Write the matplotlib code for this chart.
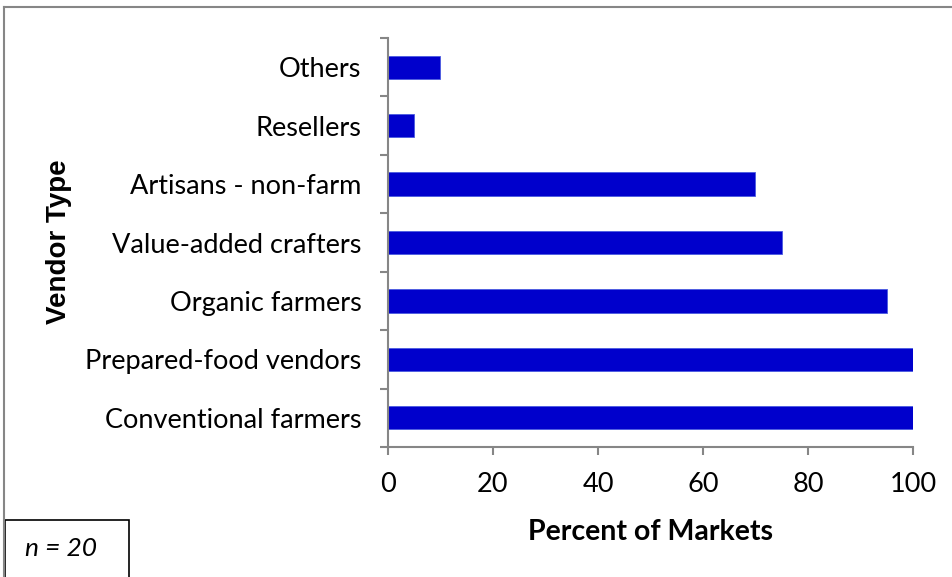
import matplotlib.pyplot as plt
from matplotlib.patches import Rectangle

# vendor types, bottom to top
vendors = ['Conventional farmers', 'Prepared-food vendors', 'Organic farmers',
           'Value-added crafters', 'Artisans - non-farm', 'Resellers', 'Others']
percent = [100, 100, 95, 75, 70, 5, 10]
xticks = [0, 20, 40, 60, 80, 100]

axis_grey = '#868686'
font = 'Lato'

fig = plt.figure(figsize=(9.53, 5.77), dpi=100)
ax = fig.add_axes([0.4071, 0.2253, 0.5509, 0.7088])

ax.barh(range(len(vendors)), percent, height=0.4, color='#0000CC',
        edgecolor='#4a5ae0', linewidth=0.6)

ax.set_xlim(0, 100)
ax.set_ylim(-0.5, len(vendors) - 0.5)
ax.set_xticks(xticks)
ax.set_xticklabels([str(t) for t in xticks], fontsize=19.5, family=font)
ax.set_yticks(range(len(vendors)))
ax.set_yticklabels(vendors, fontsize=19.5, family=font)
# tick marks sit between categories, labels stay centred
ax.set_yticks([i - 0.5 for i in range(len(vendors) + 1)], minor=True)
ax.tick_params(axis='y', which='major', length=0, pad=19)
ax.tick_params(axis='y', which='minor', length=6, color=axis_grey, width=1.5)
ax.tick_params(axis='x', length=6, color=axis_grey, width=1.5, pad=12)

for side in ['top', 'right']:
    ax.spines[side].set_visible(False)
for side in ['left', 'bottom']:
    ax.spines[side].set_color(axis_grey)
    ax.spines[side].set_linewidth(1.5)

ax.set_xlabel('Percent of Markets', fontsize=20.5, family=font,
              fontweight='bold', labelpad=16)
fig.text(0.062, 0.581, 'Vendor Type', rotation=90, fontsize=20,
         family='Liberation Sans', fontweight='bold', ha='center', va='center')

# chart area frame and the sample size box
fig.add_artist(plt.Line2D([0.0042, 1.0], [0.988, 0.988], color=axis_grey,
                          linewidth=1.5, transform=fig.transFigure))
fig.add_artist(plt.Line2D([0.0042, 0.0042], [0.0, 0.988], color=axis_grey,
                          linewidth=1.5, transform=fig.transFigure))
fig.add_artist(Rectangle((0.0052, -0.01), 0.13, 0.108, fill=False,
                         edgecolor='black', linewidth=1.2,
                         transform=fig.transFigure))
fig.text(0.026, 0.05, 'n = 20', fontsize=19, family=font, style='italic',
         va='center')

fig.savefig('out.png', dpi=100)
